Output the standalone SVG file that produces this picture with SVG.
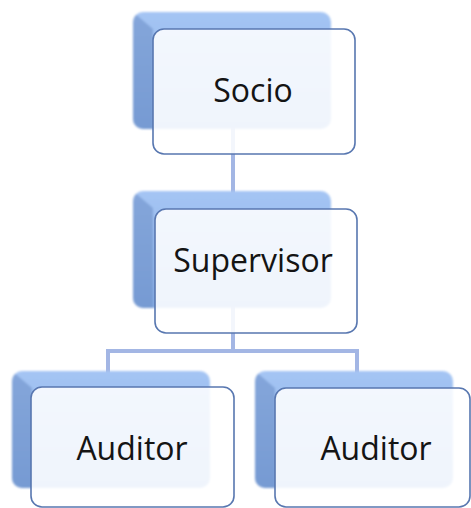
<svg xmlns="http://www.w3.org/2000/svg" width="471" height="508" viewBox="0 0 471 508">
<style>
.lbl{font-family:"Open Sans","Liberation Sans",sans-serif;font-size:32px;fill:#141414;text-anchor:middle}
.front{fill:#ffffff;fill-opacity:0.87;stroke:#5877b0;stroke-width:1.6}
.conn{fill:none;stroke:#a3b6e4;stroke-width:4}
</style>
<defs>
<linearGradient id="gBack" x1="0" y1="0" x2="0" y2="1">
<stop offset="0" stop-color="#a5c5f4"/>
<stop offset="1" stop-color="#86acE4"/>
</linearGradient>
<filter id="soft" x="-5%" y="-5%" width="110%" height="110%">
<feGaussianBlur stdDeviation="0.8"/>
</filter>
<clipPath id="backClip"><rect x="0" y="0" width="198" height="117" rx="10"/></clipPath>
<g id="back">
<g filter="url(#soft)">
<rect x="0" y="0" width="198" height="117" rx="10" fill="url(#gBack)"/>
<polygon points="0,0 20,17 20,117 0,117" fill="#6a8cc4" fill-opacity="0.55" clip-path="url(#backClip)"/>
</g>
</g>
</defs>
<g id="connectors">
<line class="conn" x1="233" y1="120" x2="233" y2="193"/>
<path class="conn" d="M233,300 V351 M108,373 V351 H357 V373"/>
</g>
<g id="socio">
<use href="#back" x="133" y="12"/>
<rect class="front" x="153" y="29" width="202" height="125" rx="11"/>
<text class="lbl" x="253" y="102">Socio</text>
</g>
<g id="supervisor">
<use href="#back" x="133" y="191"/>
<rect class="front" x="155" y="209" width="202" height="124" rx="11"/>
<text class="lbl" x="253" y="272">Supervisor</text>
</g>
<g id="auditor1">
<use href="#back" x="12" y="371"/>
<rect class="front" x="31" y="387" width="203" height="120" rx="11"/>
<text class="lbl" x="132" y="460">Auditor</text>
</g>
<g id="auditor2">
<use href="#back" x="255" y="371"/>
<rect class="front" x="275" y="388" width="195" height="119" rx="11"/>
<text class="lbl" x="376" y="460">Auditor</text>
</g>
</svg>
